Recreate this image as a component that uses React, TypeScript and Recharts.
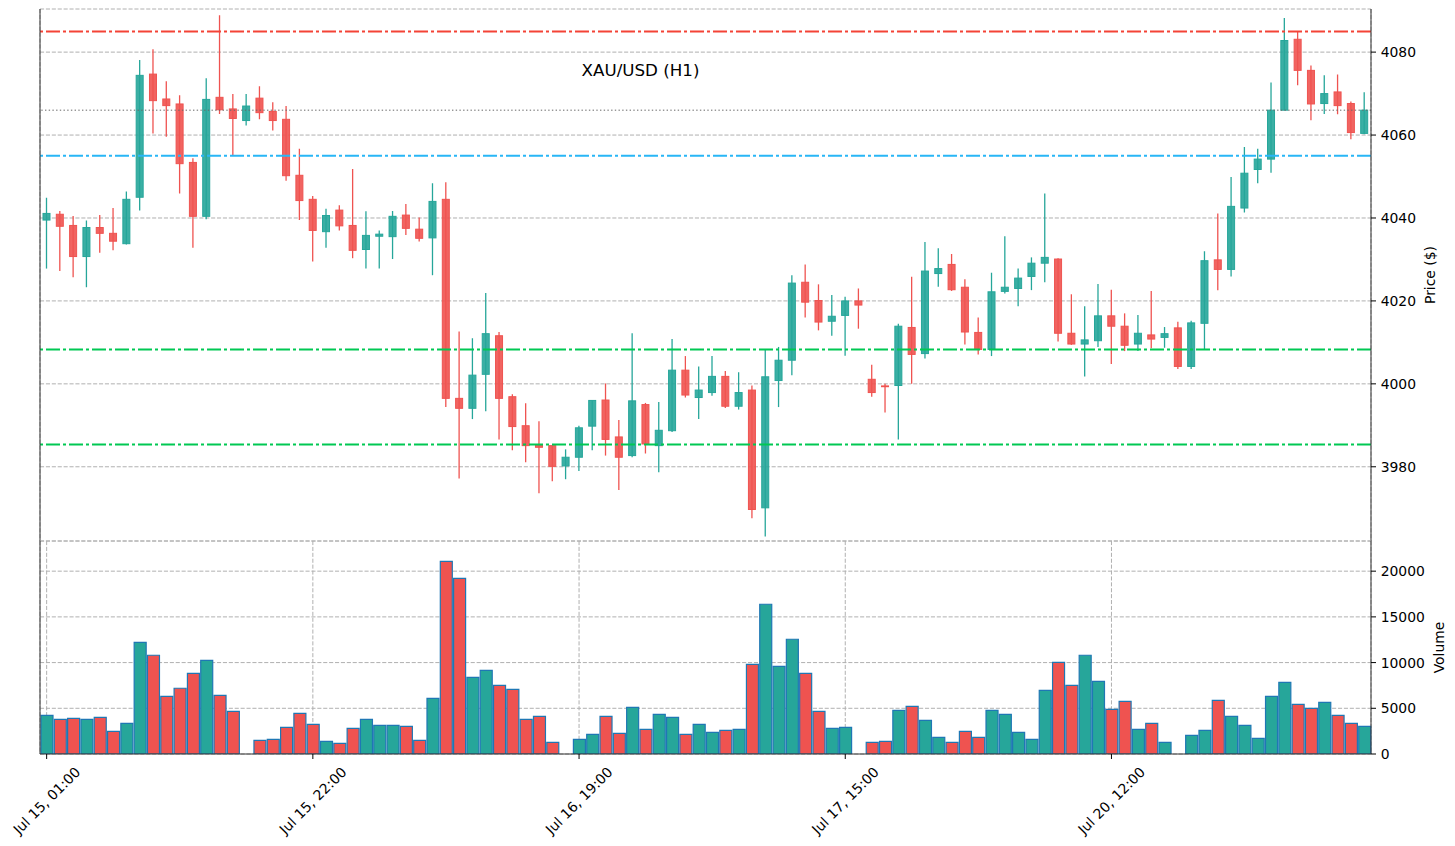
import { Bar, CartesianGrid, Cell, ComposedChart, ReferenceLine, XAxis, YAxis } from "recharts"

// hourly XAU/USD candles
const opens = [
  4039.5, 4040.9, 4038.2, 4030.7, 4037.7, 4036.3, 4033.8, 4045.0, 4074.7, 4068.7,
  4067.5, 4053.4, 4040.4, 4069.1, 4066.3, 4063.5, 4068.9, 4065.7, 4063.8, 4050.3,
  4044.5, 4036.7, 4041.9, 4038.2, 4032.4, 4035.6, 4035.5, 4040.7, 4037.3, 4035.2,
  4044.5, 3996.5, 3994.1, 4002.3, 4011.6, 3996.9, 3989.9, 3985.3, 3985.1, 3980.2,
  3982.3, 3989.8, 3996.1, 3987.2, 3982.7, 3995.0, 3985.1, 3988.7, 4003.3, 3996.7,
  3997.9, 4001.8, 3994.6, 3998.5, 3970.1, 4000.8, 4005.7, 4024.5, 4020.1, 4015.1,
  4016.5, 4020.0, 4001.1, 3999.5, 3999.6, 4013.6, 4007.3, 4026.6, 4028.8, 4023.3,
  4012.4, 4008.3, 4022.3, 4023.0, 4025.9, 4029.1, 4030.1, 4012.2, 4009.6, 4010.4,
  4016.4, 4013.9, 4009.6, 4011.8, 4011.2, 4013.5, 4004.2, 4014.6, 4029.9, 4027.6,
  4042.4, 4051.7, 4054.2, 4066.0, 4083.1, 4075.6, 4067.6, 4070.4, 4067.6, 4060.4,
]
const highs = [
  4044.9, 4041.7, 4040.5, 4039.4, 4040.7, 4042.4, 4046.4, 4078.1, 4080.7, 4073.0,
  4069.6, 4054.4, 4073.7, 4088.9, 4069.9, 4069.9, 4071.8, 4067.9, 4067.0, 4056.7,
  4045.3, 4042.2, 4043.1, 4051.8, 4041.6, 4037.0, 4041.7, 4043.4, 4040.1, 4048.4,
  4048.6, 4012.6, 4011.0, 4021.9, 4012.5, 3997.5, 3995.3, 3991.0, 3985.1, 3984.2,
  3989.9, 3996.0, 4000.1, 3991.3, 4012.2, 3995.4, 3995.6, 4010.8, 4006.7, 4004.2,
  4006.7, 4003.1, 4002.8, 3999.6, 4008.3, 4008.9, 4026.2, 4028.8, 4024.0, 4021.4,
  4021.0, 4023.0, 4004.6, 4000.0, 4014.5, 4025.8, 4034.2, 4032.7, 4031.3, 4025.2,
  4016.0, 4026.8, 4035.6, 4027.8, 4030.5, 4045.9, 4030.3, 4021.6, 4018.7, 4024.1,
  4022.7, 4017.0, 4016.6, 4022.4, 4013.7, 4015.0, 4015.2, 4032.0, 4041.1, 4049.9,
  4057.1, 4056.7, 4072.7, 4088.2, 4085.1, 4076.8, 4074.4, 4074.6, 4068.1, 4070.3,
]
const lows = [
  4027.8, 4027.2, 4025.7, 4023.3, 4031.6, 4032.2, 4033.6, 4041.8, 4060.4, 4059.6,
  4045.9, 4032.8, 4039.7, 4065.1, 4055.1, 4062.3, 4063.8, 4061.1, 4049.0, 4039.5,
  4029.5, 4032.8, 4037.0, 4030.3, 4027.8, 4027.8, 4030.1, 4035.9, 4034.3, 4026.2,
  3994.4, 3977.2, 3991.5, 3993.4, 3986.6, 3984.0, 3981.1, 3973.6, 3976.5, 3977.0,
  3979.0, 3984.0, 3982.7, 3974.4, 3982.3, 3983.2, 3978.7, 3988.4, 3996.7, 3991.5,
  3997.1, 3994.2, 3993.8, 3967.6, 3963.2, 3994.4, 4002.1, 4016.0, 4012.9, 4011.6,
  4006.8, 4013.3, 3996.9, 3993.1, 3986.6, 4000.0, 4006.1, 4023.4, 4022.4, 4009.5,
  4007.1, 4006.7, 4021.8, 4018.7, 4022.6, 4024.5, 4010.2, 4009.4, 4001.8, 4008.9,
  4004.8, 4007.9, 4007.9, 4008.6, 4008.7, 4003.6, 4003.6, 4008.3, 4022.6, 4025.9,
  4041.3, 4048.4, 4050.9, 4066.0, 4072.0, 4063.6, 4065.1, 4065.0, 4059.0, 4060.2,
]
const closes = [
  4041.1, 4038.0, 4030.7, 4037.7, 4036.3, 4034.4, 4044.5, 4074.4, 4068.3, 4067.1,
  4053.1, 4040.4, 4068.6, 4066.1, 4064.0, 4067.0, 4065.4, 4063.5, 4050.2, 4044.2,
  4037.0, 4040.6, 4038.1, 4032.2, 4035.8, 4036.1, 4040.4, 4037.5, 4035.1, 4044.0,
  3996.5, 3994.1, 4002.1, 4012.1, 3996.5, 3989.7, 3985.1, 3984.7, 3980.1, 3982.3,
  3989.4, 3996.0, 3986.6, 3982.3, 3995.9, 3985.5, 3988.8, 4003.3, 3997.3, 3998.5,
  4001.8, 3994.6, 3997.9, 3969.7, 4001.7, 4005.7, 4024.3, 4019.7, 4014.9, 4016.3,
  4020.0, 4019.0, 3997.9, 3999.4, 4013.9, 4007.1, 4027.2, 4027.8, 4022.7, 4012.5,
  4008.3, 4022.2, 4023.3, 4025.5, 4029.1, 4030.5, 4012.2, 4009.6, 4010.6, 4016.4,
  4013.9, 4009.3, 4012.2, 4010.8, 4012.1, 4004.2, 4014.7, 4029.7, 4027.6, 4042.8,
  4050.8, 4054.2, 4066.0, 4082.8, 4075.6, 4067.5, 4070.0, 4067.1, 4060.6, 4066.0,
]
const volumes = [
  4230, 3790, 3900, 3790, 4010, 2480, 3350, 12220, 10800, 6310,
  7190, 8830, 10250, 6420, 4670, 0, 1500, 1600, 2920, 4450,
  3250, 1390, 1170, 2810, 3790, 3140, 3140, 3030, 1500, 6090,
  21080, 19220, 8390, 9150, 7510, 7080, 3790, 4120, 1280, 0,
  1600, 2150, 4120, 2260, 5110, 2700, 4340, 4010, 2150, 3250,
  2370, 2590, 2700, 9810, 16380, 9590, 12550, 8830, 4670, 2810,
  2920, 0, 1280, 1390, 4780, 5220, 3680, 1820, 1280, 2480,
  1820, 4780, 4340, 2370, 1600, 6970, 10030, 7510, 10800, 7950,
  4890, 5760, 2700, 3350, 1280, 0, 2040, 2590, 5870, 4120,
  3140, 1710, 6310, 7840, 5430, 5000, 5650, 4230, 3350, 3030,
]

const tickIdx = [0, 20, 40, 60, 80]
const tickLabels = ["Jul 15, 01:00", "Jul 15, 22:00", "Jul 16, 19:00", "Jul 17, 15:00", "Jul 20, 12:00"]

const priceTicks = [3980, 4000, 4020, 4040, 4060, 4080]
const priceDomain = [3962.1, 4090.4]
const volumeTicks = [0, 5000, 10000, 15000, 20000]
const volumeDomain = [0, 23300]

const resistance = 4085
const pivot = 4055
const supports = [4008.3, 3985.4]

const UP = "#26a69a"
const DOWN = "#ef5350"
const AXIS = "#333"
const GRID = "#b0b0b0"
const FONT = "'DejaVu Sans', sans-serif"
const W = 1455

const data = opens.map((open, i) => ({
  i,
  open,
  high: highs[i],
  low: lows[i],
  close: closes[i],
  vol: volumes[i],
  range: [lows[i], highs[i]],
}))
const lastClose = closes[closes.length - 1]

function Candle(props: any) {
  const { x, y, width, height, payload } = props
  if (!payload || height == null) return null
  const { open, close, high, low } = payload
  const color = close >= open ? UP : DOWN
  const top = Math.min(y, y + height)
  const h = Math.abs(height)
  const k = high > low ? h / (high - low) : 0
  const cx = x + width / 2
  const bodyTop = top + (high - Math.max(open, close)) * k
  const bodyH = Math.max(Math.abs(close - open) * k, 0.8)
  return (
    <g>
      <line x1={cx} x2={cx} y1={top} y2={top + h} stroke={color} strokeWidth={1.3} />
      <rect x={x} y={bodyTop} width={width} height={bodyH} fill={color} fillOpacity={0.9} stroke={color} strokeWidth={1} />
    </g>
  )
}

function XTick({ x, y, payload }: any) {
  const label = tickLabels[tickIdx.indexOf(payload.value)] ?? ""
  const cy = y + 39.5
  return (
    <text
      x={x}
      y={cy}
      textAnchor="middle"
      dominantBaseline="central"
      transform={`rotate(-45, ${x}, ${cy})`}
      fontSize={13.9}
      fontFamily={FONT}
      fill="#000"
    >
      {label}
    </text>
  )
}

function axisTitle(text: string, dx: number) {
  return ({ viewBox }: any) => {
    const cx = viewBox.x + dx
    const cy = viewBox.y + viewBox.height / 2
    return (
      <text
        x={cx}
        y={cy}
        textAnchor="middle"
        dominantBaseline="central"
        transform={`rotate(-90, ${cx}, ${cy})`}
        fontSize={13.9}
        fontFamily={FONT}
        fill="#000"
      >
        {text}
      </text>
    )
  }
}

const tickStyle = { fill: "#000", fontSize: 13.9, fontFamily: FONT }
const dashDot = "14 3 3 3"

export default function App() {
  return (
    <div style={{ position: "absolute", left: 0, top: 0, width: W, height: 846, background: "#fff", fontFamily: FONT }}>
      <div style={{ position: "absolute", left: 0, top: 0 }}>
        <ComposedChart width={W} height={546} data={data} margin={{ top: 9, right: 0, bottom: 5, left: 30 }}>
          <CartesianGrid stroke={GRID} strokeDasharray="4.1 1.8" strokeWidth={1} />
          <XAxis dataKey="i" ticks={tickIdx} interval={0} tick={false} tickLine={false} height={0} axisLine={{ stroke: AXIS }} />
          <XAxis xAxisId="top" dataKey="i" orientation="top" height={0} tick={false} tickLine={false} axisLine={{ stroke: AXIS }} />
          <YAxis
            orientation="right"
            width={84}
            domain={priceDomain}
            allowDataOverflow
            ticks={priceTicks}
            tick={tickStyle}
            tickSize={5}
            tickMargin={4.7}
            tickLine={{ stroke: "#000" }}
            axisLine={{ stroke: AXIS }}
            label={axisTitle("Price ($)", 59)}
          />
          <YAxis yAxisId="left" orientation="left" width={10} domain={priceDomain} allowDataOverflow ticks={priceTicks} tick={false} tickLine={false} axisLine={{ stroke: AXIS }} />
          <Bar dataKey="range" barSize={7} shape={Candle} isAnimationActive={false} />
          <ReferenceLine y={lastClose} stroke="#666" strokeWidth={1} strokeDasharray="1.4 2.3" />
          <ReferenceLine y={resistance} stroke="#f44336" strokeWidth={2} strokeDasharray={dashDot} />
          <ReferenceLine y={pivot} stroke="#29b6f6" strokeWidth={2} strokeDasharray={dashDot} />
          {supports.map((s) => (
            <ReferenceLine key={s} y={s} stroke="#00c853" strokeWidth={2} strokeDasharray={dashDot} />
          ))}
        </ComposedChart>
      </div>
      <div
        style={{
          position: "absolute",
          left: 0,
          top: 60,
          width: 1281,
          textAlign: "center",
          fontSize: 16.7,
          lineHeight: "20px",
          color: "#000",
        }}
      >
        XAU/USD (H1)
      </div>
      <div style={{ position: "absolute", left: 0, top: 536 }}>
        <ComposedChart width={W} height={310} data={data} margin={{ top: 5, right: 0, bottom: 0, left: 30 }}>
          <CartesianGrid stroke={GRID} strokeDasharray="4.1 1.8" strokeWidth={1} />
          <XAxis
            dataKey="i"
            ticks={tickIdx}
            interval={0}
            height={92}
            tickSize={5}
            tickMargin={2}
            tickLine={{ stroke: "#000" }}
            axisLine={{ stroke: AXIS }}
            tick={<XTick />}
          />
          <XAxis xAxisId="top" dataKey="i" orientation="top" height={0} tick={false} tickLine={false} axisLine={{ stroke: AXIS }} />
          <YAxis
            orientation="right"
            width={84}
            domain={volumeDomain}
            allowDataOverflow
            ticks={volumeTicks}
            tick={tickStyle}
            tickSize={5}
            tickMargin={4.7}
            tickLine={{ stroke: "#000" }}
            axisLine={{ stroke: AXIS }}
            label={axisTitle("Volume", 67.5)}
          />
          <YAxis yAxisId="left" orientation="left" width={10} domain={volumeDomain} allowDataOverflow ticks={volumeTicks} tick={false} tickLine={false} axisLine={{ stroke: AXIS }} />
          <Bar dataKey="vol" barSize={12} stroke="#1f77b4" strokeWidth={1.2} isAnimationActive={false}>
            {data.map((d) => (
              <Cell key={d.i} fill={d.close >= d.open ? UP : DOWN} />
            ))}
          </Bar>
        </ComposedChart>
      </div>
    </div>
  )
}
